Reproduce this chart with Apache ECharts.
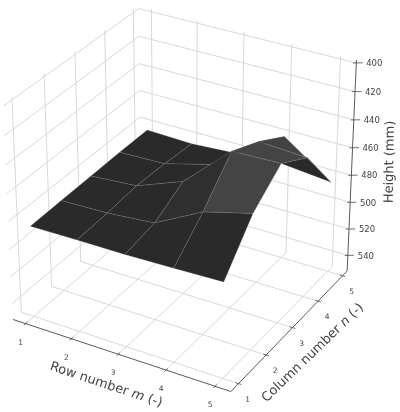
<!DOCTYPE html>
<html>
<head>
<meta charset="utf-8">
<style>html,body{margin:0;padding:0;background:#fff}#chart{width:400px;height:412px}</style>
<script src="https://cdn.jsdelivr.net/npm/echarts@6/dist/echarts.min.js"></script>
</head>
<body>
<div id="chart"></div>
<script>
// Measured heights (mm), one array per row number m, indexed by column number n = 1..5
const rowNumbers = [1, 2, 3, 4, 5];
const columnNumbers = [1, 2, 3, 4, 5];
const heightTicks = [400, 420, 440, 460, 480, 500, 520, 540];
const heightsRow1 = [485.5, 485, 484.5, 484, 484];
const heightsRow2 = [485, 484, 482, 483, 485];
const heightsRow3 = [485, 481, 469, 474, 483];
const heightsRow4 = [484, 463, 438, 448, 461];
const heightsRow5 = [483, 454, 437, 450, 485];
const heights = [heightsRow1, heightsRow2, heightsRow3, heightsRow4, heightsRow5];

// Axis ranges; the height axis runs downwards
const X_LIM = [0.72, 5.32], Y_LIM = [0.73, 5.19], Z_LIM = [552, 398];

// Camera: elevation 30 deg, azimuth -60 deg, distance 10, fitted to the page
const U = [0.866, 0.5, 0], V = [-0.25, 0.433, 0.866], N = [0.433, -0.75, 0.5];
const HALF = [0.5714, 0.5714, 0.56], DIST = 10, SCALE = 220, CX = 183, CY = 191;

function view(x, y, z) {
  const p = [
    ((x - X_LIM[0]) / (X_LIM[1] - X_LIM[0]) - 0.5) * 2 * HALF[0],
    ((y - Y_LIM[0]) / (Y_LIM[1] - Y_LIM[0]) - 0.5) * 2 * HALF[1],
    ((z - Z_LIM[0]) / (Z_LIM[1] - Z_LIM[0]) - 0.5) * 2 * HALF[2]
  ];
  const dot = (a) => a[0] * p[0] + a[1] * p[1] + a[2] * p[2];
  const depth = dot(N), f = 1 / (1 - depth / DIST);
  return { sx: CX + SCALE * dot(U) * f, sy: CY - SCALE * dot(V) * f, depth };
}
const project = (x, y, z) => { const v = view(x, y, z); return [v.sx, v.sy]; };
const seg = (a, b, c, d, e, g) => project(a, b, c).concat(project(d, e, g));

const [x0, x1] = X_LIM, [y0, y1] = Y_LIM, [zb, zt] = Z_LIM;

// Grid lines on the floor and the two back walls
const gridSegs = [];
rowNumbers.forEach((m) => {
  gridSegs.push(seg(m, y0, zb, m, y1, zb), seg(m, y1, zb, m, y1, zt));
});
columnNumbers.forEach((n) => {
  gridSegs.push(seg(x0, n, zb, x1, n, zb), seg(x0, n, zb, x0, n, zt));
});
heightTicks.forEach((h) => {
  gridSegs.push(seg(x0, y0, h, x0, y1, h), seg(x0, y1, h, x1, y1, h));
});

// Axis lines and tick marks
const axisSegs = [seg(x0, y0, zb, x1, y0, zb), seg(x1, y0, zb, x1, y1, zb), seg(x1, y1, zb, x1, y1, zt)];
const tickSegs = [];
rowNumbers.forEach((m) => tickSegs.push(seg(m, y0 + 0.06, zb, m, y0 - 0.06, zb)));
columnNumbers.forEach((n) => tickSegs.push(seg(x1 - 0.06, n, zb, x1 + 0.06, n, zb)));
heightTicks.forEach((h) => tickSegs.push(seg(x1 - 0.05, y1 - 0.03, h, x1 + 0.1, y1 + 0.06, h)));

// Surface faces, far ones painted first
const BRIGHT_FACES = { '3,1': 68, '3,2': 68, '3,3': 66, '2,1': 47 };
const BASE_GRAY = 42;
const point = (i, j) => view(rowNumbers[i], columnNumbers[j], heights[i][j]);
const faces = [];
for (let i = 0; i < 4; i++) {
  for (let j = 0; j < 4; j++) {
    const q = [point(i, j), point(i + 1, j), point(i + 1, j + 1), point(i, j + 1)];
    const coords = q.reduce((acc, v) => acc.concat([v.sx, v.sy]), []);
    const depth = q.reduce((s, v) => s + v.depth, 0) / 4;
    faces.push({ value: coords.concat([BRIGHT_FACES[i + ',' + j] || BASE_GRAY]), depth });
  }
}
faces.sort((a, b) => a.depth - b.depth);
// Shaded underside seen below the last ridge
const under = [point(4, 2), point(4, 3), point(4, 4), point(4, 4)];
faces.unshift({ value: under.reduce((acc, v) => acc.concat([v.sx, v.sy]), []).concat([BASE_GRAY]), depth: 0 });

function lineSeries(segs, color, width) {
  return {
    type: 'custom', coordinateSystem: 'cartesian2d', clip: false, silent: true,
    data: segs,
    renderItem: (params, api) => {
      const a = api.coord([api.value(0), api.value(1)]);
      const b = api.coord([api.value(2), api.value(3)]);
      return { type: 'line', shape: { x1: a[0], y1: a[1], x2: b[0], y2: b[1] },
               style: { stroke: color, lineWidth: width } };
    }
  };
}

const surfaceSeries = {
  type: 'custom', coordinateSystem: 'cartesian2d', clip: false, silent: true,
  data: faces.map((f) => f.value),
  renderItem: (params, api) => {
    const pts = [0, 2, 4, 6].map((k) => api.coord([api.value(k), api.value(k + 1)]));
    const g = api.value(8);
    return { type: 'polygon', shape: { points: pts },
             style: { fill: 'rgb(' + g + ',' + g + ',' + g + ')', stroke: 'rgba(140,140,140,0.38)', lineWidth: 0.6 } };
  }
};

// Tick labels and axis titles
const TEXT_COLOR = '#444444';
const labels = [];
rowNumbers.forEach((m) => {
  const p = project(m, y0, zb);
  labels.push({ pos: [p[0] - 5, p[1] + 19], text: String(m), size: 7.5 });
});
columnNumbers.forEach((n) => {
  const p = project(x1, n, zb);
  labels.push({ pos: [p[0] + 9, p[1] + 16], text: String(n), size: 7.5 });
});
heightTicks.forEach((h) => {
  const p = project(x1, y1, h);
  labels.push({ pos: [p[0] + 18, p[1] + 1], text: String(h), size: 8.5 });
});
labels.push({ pos: [106, 385], text: '{a|Row number }{i|m}{a| (-)}', rot: -18.5, size: 13 });
labels.push({ pos: [313, 353], text: '{a|Column number }{i|n}{a| (-)}', rot: 44, size: 13 });
labels.push({ pos: [390, 162], text: 'Height (mm)', rot: 89, size: 13 });

const textSeries = {
  type: 'custom', coordinateSystem: 'cartesian2d', clip: false, silent: true,
  data: labels.map((l) => l.pos),
  renderItem: (params, api) => {
    const l = labels[params.dataIndex];
    const c = api.coord([api.value(0), api.value(1)]);
    const font = { fontFamily: 'DejaVu Sans', fontSize: l.size, fill: TEXT_COLOR };
    return {
      type: 'text', x: c[0], y: c[1], rotation: (l.rot || 0) * Math.PI / 180,
      style: Object.assign({ text: l.text, align: 'center', verticalAlign: 'middle',
        rich: { a: font, i: Object.assign({ fontStyle: 'italic' }, font) } }, font)
    };
  }
};

const chart = echarts.init(document.getElementById('chart'), null, { renderer: 'canvas' });
chart.setOption({
  animation: false,
  backgroundColor: '#fff',
  grid: { left: 0, right: 0, top: 0, bottom: 0 },
  xAxis: { type: 'value', min: 0, max: 400, show: false },
  yAxis: { type: 'value', min: 0, max: 412, inverse: true, show: false },
  series: [
    lineSeries(gridSegs, '#d8d8d8', 1),
    surfaceSeries,
    lineSeries(axisSegs, '#5a5a5a', 1),
    lineSeries(tickSegs, '#4a4a4a', 0.8),
    textSeries
  ]
});
</script>
</body>
</html>
